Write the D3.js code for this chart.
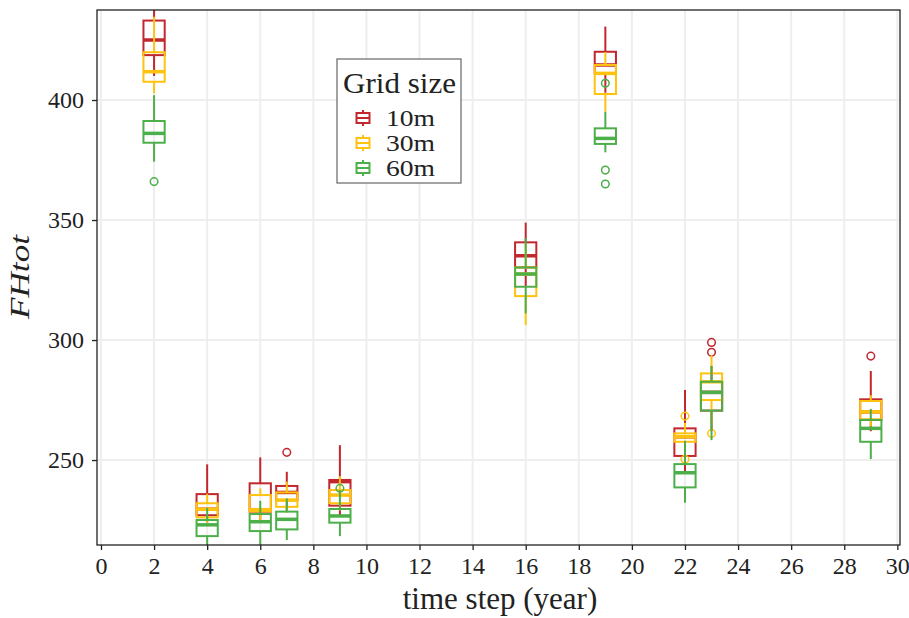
<!DOCTYPE html>
<html><head><meta charset="utf-8">
<script src="https://cdn.jsdelivr.net/npm/d3@7"></script>
<style>body{margin:0;background:#fff}svg{display:block}</style>
</head><body>
<script>
// ---- data ----
const years = [2, 4, 6, 7, 9, 16, 19, 22, 23, 29];
const seriesNames = ["10m", "30m", "60m"];
const seriesColors = ["#C1272D", "#FFC20E", "#4DAF4A"];
// [lowWhisker, q1, median, q3, highWhisker] per year
const stats10 = [
  [410, 418.7, 425, 433.1, 440], [224, 227, 229.5, 235.8, 248.2], [224, 228.5, 229.3, 240.3, 251.1],
  [229, 233.3, 236.5, 239.2, 245.1], [227, 231, 241, 241.7, 256.2], [322, 330.3, 335.1, 340.7, 348.9],
  [403, 411.1, 414.6, 420.1, 430.6], [245, 251.7, 259.7, 263.2, 279.2], [262, 270.6, 278.2, 282.6, 289.2],
  [262, 266.7, 270.1, 275.3, 287.1]
];
const stats30 = [
  [402.8, 407.6, 411.8, 419.9, 434.7], [224, 226.1, 229.5, 232, 236], [225, 228.6, 229.3, 235.4, 238.2],
  [228, 230.5, 233.3, 236.5, 241], [229, 232, 235.4, 237.5, 243.3], [306.3, 318.3, 327.5, 330.2, 340],
  [395.1, 402.5, 411.1, 414.6, 420], [253, 257.6, 259.7, 261.1, 265.5], [265, 275, 282.6, 286.1, 293.7],
  [264, 267, 270.1, 274.6, 277]
];
const stats60 = [
  [374.3, 382.2, 386.1, 391.25, 402], [213, 218.3, 223, 225, 230], [213, 220.4, 224.3, 227.5, 233],
  [216.7, 221.1, 225.3, 228.5, 234], [218.3, 223.9, 226.7, 229.6, 237.5], [311.1, 322.2, 327.5, 330.2, 342.4],
  [378.2, 381.7, 384, 388.2, 395.1], [232.2, 238.6, 244.7, 248.3, 258], [258.3, 270.6, 278.2, 282.6, 289.2],
  [250.4, 257.6, 263.2, 266.7, 271.25]
];
const outliers10 = [[7, 253.2], [23, 299], [23, 294.9], [29, 293.3]];
const outliers30 = [[22, 268.3], [22, 250.3], [23, 261.1]];
const outliers60 = [[2, 366], [9, 238.2], [19, 407], [19, 370.8], [19, 365]];
const xTicks = d3.range(0, 31, 2);
const yTicks = [250, 300, 350, 400];

// ---- layout ----
const W = 909, H = 618;
const L = 97, R = 900, T = 10, B = 545;
const font = "'Liberation Serif', 'DejaVu Serif', serif";
const svg = d3.select("body").append("svg").attr("width", W).attr("height", H);

const x = d3.scaleLinear().domain([-0.15, 30.1]).range([L, R]);
const y = d3.scaleLinear().domain([214.6, 437.5]).range([B, T]);
const boxW = x(0.8) - x(0);

// gridlines
const grid = svg.append("g");
grid.selectAll("line.gx").data(xTicks).join("line")
  .attr("x1", d => x(d)).attr("x2", d => x(d)).attr("y1", T).attr("y2", B)
  .attr("stroke", "#eeeeee").attr("stroke-width", 2);
grid.selectAll("line.gy").data(yTicks).join("line")
  .attr("y1", d => y(d)).attr("y2", d => y(d)).attr("x1", L).attr("x2", R)
  .attr("stroke", "#eeeeee").attr("stroke-width", 2);

svg.append("clipPath").attr("id", "clip").append("rect")
  .attr("x", L).attr("y", T).attr("width", R - L).attr("height", B - T);

const plot = svg.append("g").attr("clip-path", "url(#clip)");

const allStats = [stats10, stats30, stats60];
const allOut = [outliers10, outliers30, outliers60];

allStats.forEach((st, si) => {
  const col = seriesColors[si];
  const g = plot.append("g");
  const data = st.map((s, i) => ({yr: years[i], lo: s[0], q1: s[1], med: s[2], q3: s[3], hi: s[4]}));
  g.selectAll("line.wu").data(data).join("line")
    .attr("x1", d => x(d.yr)).attr("x2", d => x(d.yr))
    .attr("y1", d => y(d.q3)).attr("y2", d => y(d.hi))
    .attr("stroke", col).attr("stroke-width", 2);
  g.selectAll("line.wl").data(data).join("line")
    .attr("x1", d => x(d.yr)).attr("x2", d => x(d.yr))
    .attr("y1", d => y(d.q1)).attr("y2", d => y(d.lo))
    .attr("stroke", col).attr("stroke-width", 2);
  g.selectAll("rect").data(data).join("rect")
    .attr("x", d => x(d.yr) - boxW / 2).attr("width", boxW)
    .attr("y", d => y(d.q3)).attr("height", d => y(d.q1) - y(d.q3))
    .attr("fill", "none").attr("stroke", col).attr("stroke-width", 2);
  g.selectAll("line.med").data(data).join("line")
    .attr("x1", d => x(d.yr) - boxW / 2).attr("x2", d => x(d.yr) + boxW / 2)
    .attr("y1", d => y(d.med)).attr("y2", d => y(d.med))
    .attr("stroke", col).attr("stroke-width", 3.5);
  g.selectAll("circle").data(allOut[si]).join("circle")
    .attr("cx", d => x(d[0])).attr("cy", d => y(d[1])).attr("r", 3.8)
    .attr("fill", "none").attr("stroke", col).attr("stroke-width", 1.5);
});

// frame
svg.append("rect").attr("x", L).attr("y", T).attr("width", R - L).attr("height", B - T)
  .attr("fill", "none").attr("stroke", "#222").attr("stroke-width", 1.3);

// axes
const xAxis = svg.append("g").attr("transform", `translate(0,${B})`)
  .call(d3.axisBottom(x).tickValues(xTicks).tickSize(5).tickPadding(3).tickSizeOuter(0));
const yAxis = svg.append("g").attr("transform", `translate(${L},0)`)
  .call(d3.axisLeft(y).tickValues(yTicks).tickSize(5).tickPadding(8).tickSizeOuter(0));
[xAxis, yAxis].forEach(a => {
  a.select(".domain").remove();
  a.selectAll(".tick line").attr("stroke", "#222").attr("stroke-width", 1.3);
  a.selectAll("text").attr("font-family", font).attr("font-size", 24).attr("fill", "#222");
});
xAxis.selectAll("text").attr("y", 29).attr("dy", 0);

// axis titles
svg.append("text").attr("x", 500).attr("y", 609).attr("text-anchor", "middle")
  .attr("font-family", font).attr("font-size", 31).attr("fill", "#222").text("time step (year)");
svg.append("text").attr("transform", "translate(29,277) rotate(-90)").attr("text-anchor", "middle")
  .attr("font-family", font).attr("font-size", 27).attr("font-style", "italic").attr("fill", "#222")
  .attr("textLength", 84).attr("lengthAdjust", "spacingAndGlyphs").text("FHtot");

// legend
const lg = svg.append("g");
lg.append("rect").attr("x", 337).attr("y", 59).attr("width", 124).attr("height", 124)
  .attr("fill", "#fff").attr("stroke", "#666").attr("stroke-width", 1.2);
lg.append("text").attr("x", 343).attr("y", 93).attr("font-family", font).attr("font-size", 29)
  .attr("fill", "#222").attr("textLength", 113).attr("lengthAdjust", "spacingAndGlyphs").text("Grid size");
seriesNames.forEach((n, i) => {
  const cy = 118 + i * 25, cx = 363, col = seriesColors[i];
  lg.append("line").attr("x1", cx).attr("x2", cx).attr("y1", cy - 8).attr("y2", cy + 8)
    .attr("stroke", col).attr("stroke-width", 2);
  lg.append("rect").attr("x", cx - 6.5).attr("y", cy - 5).attr("width", 13).attr("height", 10)
    .attr("fill", "#fff").attr("stroke", col).attr("stroke-width", 2);
  lg.append("line").attr("x1", cx - 6.5).attr("x2", cx + 6.5).attr("y1", cy).attr("y2", cy)
    .attr("stroke", col).attr("stroke-width", 2);
  lg.append("text").attr("x", 386).attr("y", cy + 8).attr("font-family", font).attr("font-size", 24)
    .attr("fill", "#222").attr("textLength", 49).attr("lengthAdjust", "spacingAndGlyphs").text(n);
});
</script>
</body></html>
